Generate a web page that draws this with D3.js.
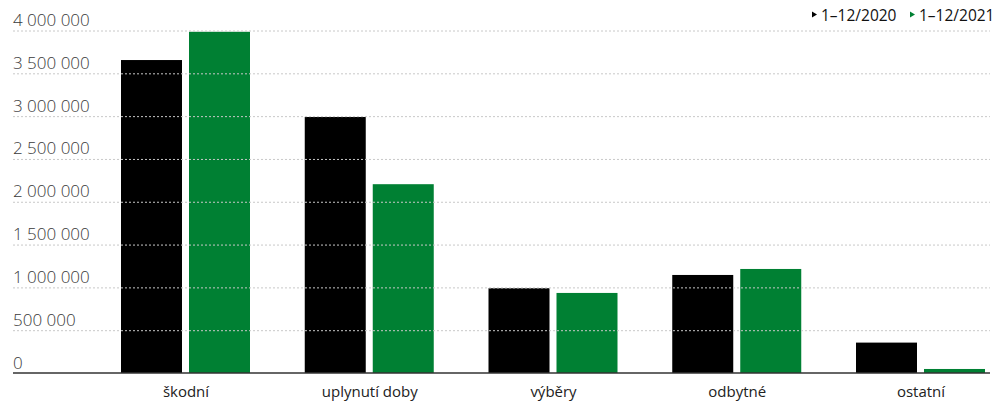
<!DOCTYPE html>
<html><head><meta charset="utf-8">
<script src="https://cdn.jsdelivr.net/npm/d3@7"></script>
<style>
body{margin:0;background:#fff;}
text{font-family:"Open Sans",sans-serif;}
</style></head>
<body><svg id="c" width="993" height="401"></svg>
<script>
const categories = ["škodní","uplynutí doby","výběry","odbytné","ostatní"];
const seriesNames = ["1–12/2020","1–12/2021"];
const values2020 = [3655000, 2990000, 990000, 1145000, 355000];
const values2021 = [3985000, 2205000, 935000, 1215000, 47000];
const yTicks = [0,500000,1000000,1500000,2000000,2500000,3000000,3500000,4000000];
const colors = ["#000000","#008033"];

const svg = d3.select("#c");
const left = 13, right = 990, y0 = 373, yTop = 30.5;
const y = d3.scaleLinear().domain([0,4000000]).range([y0,yTop]);
const xc = d3.scalePoint().domain(categories).range([185.5,920.5]);
const xs = d3.scaleBand().domain(seriesNames).range([-64.5,64.5]).paddingInner(7/68).paddingOuter(0);
const fmt = v => d3.format(",")(v).replace(/,/g," ");

const data = categories.map((c,i)=>({cat:c, vals:[values2020[i],values2021[i]]}));

// bars
const g = svg.append("g");
data.forEach(d=>{
  d.vals.forEach((v,j)=>{
    g.append("rect")
      .attr("x", xc(d.cat)+xs(seriesNames[j]))
      .attr("width", xs.bandwidth())
      .attr("y", y(v))
      .attr("height", y0 - y(v))
      .attr("fill", colors[j]);
  });
});

// grid
const yAxis = d3.axisRight(y).tickValues(yTicks).tickSize(0).tickFormat(fmt);
const ga = svg.append("g").attr("transform",`translate(${left},0)`).call(yAxis);
ga.select(".domain").remove();
ga.selectAll(".tick line").remove();
ga.selectAll(".tick").filter(d=>d>0).append("line")
  .attr("x1",0).attr("x2",right-left)
  .attr("stroke","#c8c8c8").attr("stroke-width",1).attr("stroke-dasharray","2,2");
ga.selectAll(".tick text").attr("x",0).attr("dy",0).attr("y",-5)
  .attr("text-anchor","start").attr("font-size",17).attr("fill","#3a3a3a")
  .attr("font-family","'Open Sans',sans-serif").attr("font-weight",300);

// x axis
const xAxis = d3.axisBottom(xc).tickSize(0).tickPadding(0);
const gx = svg.append("g").attr("transform",`translate(0,${y0})`).call(xAxis);
gx.select(".domain").remove();
gx.append("line").attr("x1",left).attr("x2",right).attr("y1",0).attr("y2",0)
  .attr("stroke","#333").attr("stroke-width",1.5);
gx.selectAll(".tick text").attr("dy",0).attr("y",24).attr("font-size",15)
  .attr("fill","#222").attr("font-family","'Open Sans',sans-serif");

// legend
const legX = [812, 910];
seriesNames.forEach((s,j)=>{
  const lg = svg.append("g").attr("transform",`translate(${legX[j]},0)`);
  lg.append("path").attr("d","M0,11.5 L5,14.5 L0,17.5 Z").attr("fill",colors[j]);
  lg.append("text").attr("x",9).attr("y",21).attr("font-size",15.5).attr("fill","#111").text(s);
});
</script></body></html>
